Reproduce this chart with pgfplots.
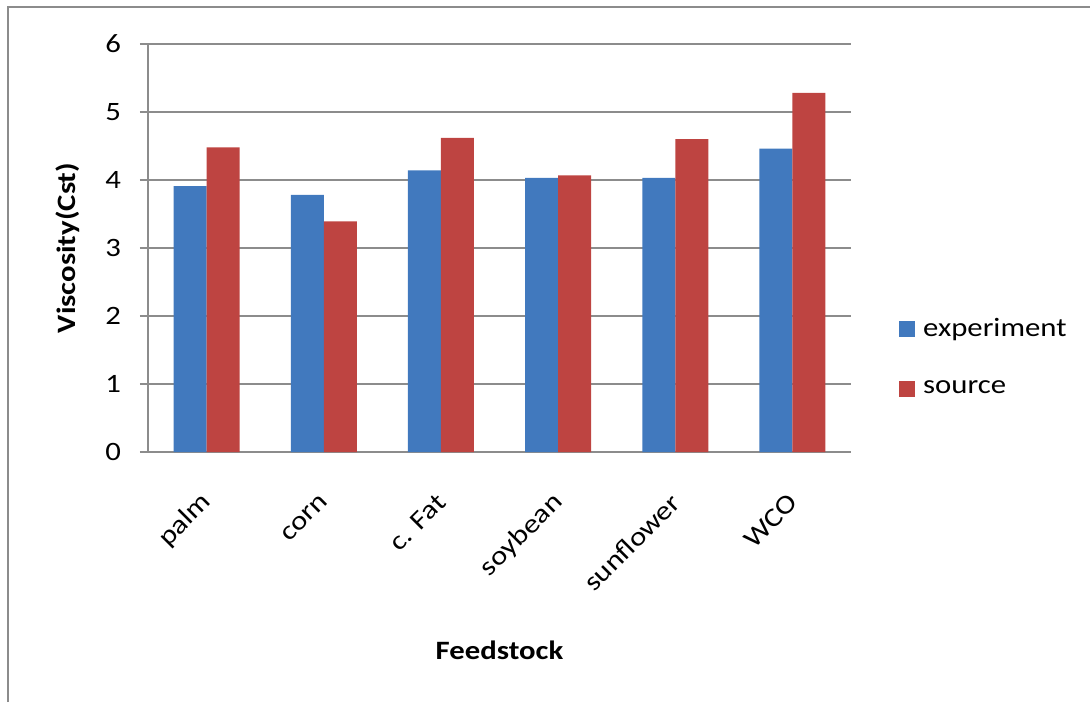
\documentclass[border=0pt]{standalone}
\usepackage{pgfplots}
\pgfplotsset{compat=1.18}
\usepackage{fontspec}
\setmainfont{Carlito}[FakeStretch=1.16]
\definecolor{expblue}{HTML}{4179BE}
\definecolor{srcred}{HTML}{BE4441}
\definecolor{gridgray}{HTML}{8C8C8C}
\newcommand\chartfont{\fontsize{26.5}{32}\selectfont}
\begin{document}
\begin{tikzpicture}[x=1pt,y=1pt]
\chartfont
\useasboundingbox (0,0) rectangle (1090,-702);
% frame
\draw[gridgray, line width=2.2pt] (8,-702) -- (8,-7) -- (1090,-7);
\begin{axis}[
  at={(148pt,-452pt)}, anchor=south west,
  scale only axis, width=703pt, height=408pt,
  ybar=0pt, bar width=33pt,
  xmin=-0.5, xmax=5.5, ymin=0, ymax=6,
  xtick={0,1,2,3,4,5},
  xticklabels={palm,corn,c. Fat,soybean,sunflower,WCO},
  ytick={0,1,2,3,4,5,6},
  /pgf/number format/assume math mode=true,
  font=\chartfont,
  axis lines=left, axis line style={-, gridgray, line width=1.6pt},
  ymajorgrids, grid style={gridgray, line width=1.6pt},
  tick align=outside, major tick length=8pt,
  ytick style={gridgray, line width=1.6pt},
  xtick style={draw=none},
  yticklabel style={xshift=-10pt},
  xticklabel style={xshift=7pt, yshift=-32pt, rotate=45, anchor=east},
  ylabel={\textbf{Viscosity(Cst)}},
  ylabel style={at={(axis description cs:-0.114,0.5)}, anchor=center, rotate=0},
  xlabel={\textbf{Feedstock}},
  xlabel style={at={(axis description cs:0.5,-0.485)}, anchor=center},
  legend style={at={(1.0685,0.2316)}, anchor=west, draw=none, fill=none,
    inner sep=0pt, outer sep=0pt, nodes={inner sep=0pt},
    row sep=40pt, column sep=8pt, font=\chartfont},
  legend cell align=left,
  legend image code/.code={\fill[#1] (0pt,-8pt) rectangle (16pt,8pt);},
]
\addplot[fill=expblue, draw=none] coordinates {(0,3.91) (1,3.78) (2,4.14) (3,4.03) (4,4.03) (5,4.46)};
\addplot[fill=srcred, draw=none] coordinates {(0,4.48) (1,3.39) (2,4.62) (3,4.07) (4,4.60) (5,5.28)};
\legend{experiment,source}
\end{axis}
\end{tikzpicture}
\end{document}
